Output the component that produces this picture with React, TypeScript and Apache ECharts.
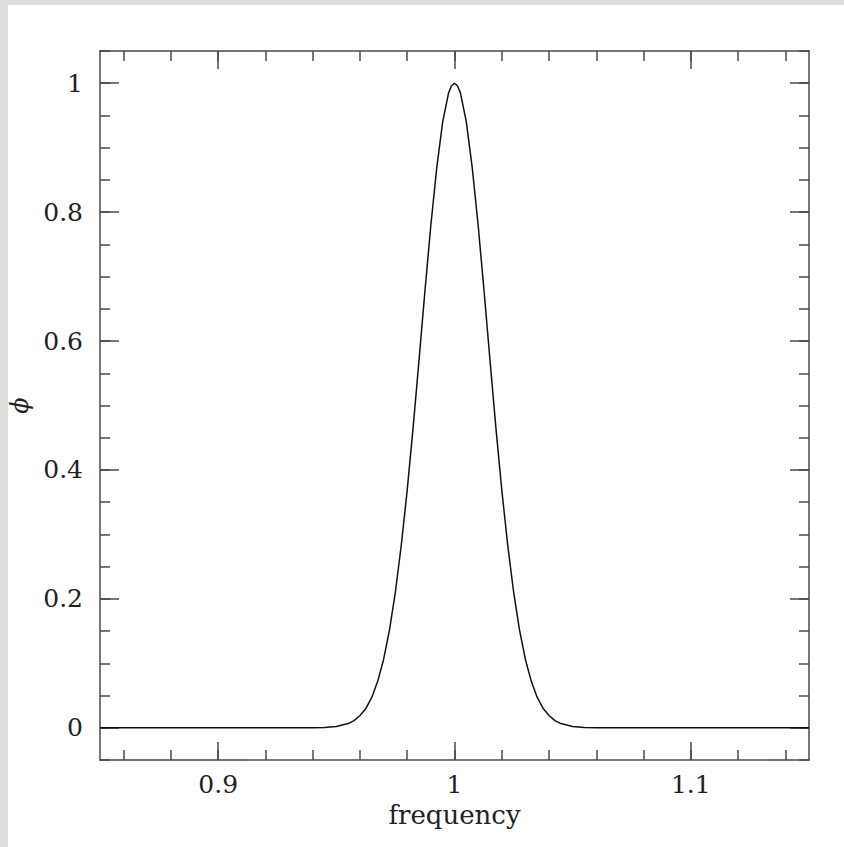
import React, { useEffect, useRef } from "react";
import * as echarts from "echarts";

// Frequency samples
const freq = [
  0.85, 0.9, 0.94, 0.945, 0.95, 0.955, 0.9575, 0.96, 0.9625, 0.965, 0.9675, 0.97,
  0.9725, 0.975, 0.9775, 0.98, 0.9825, 0.985, 0.9875, 0.99, 0.9925, 0.995, 0.9975,
  0.99875, 1.0, 1.00125,
  1.0025, 1.005, 1.0075, 1.01, 1.0125, 1.015, 1.0175, 1.02, 1.0225, 1.025, 1.0275, 1.03,
  1.0325, 1.035, 1.0375, 1.04, 1.0425, 1.045, 1.05, 1.055, 1.06, 1.1, 1.15,
];
const phi = [
  0, 0, 0.0001, 0.0005, 0.002, 0.0065, 0.011, 0.019, 0.03, 0.047, 0.072, 0.106,
  0.152, 0.211, 0.284, 0.369, 0.466, 0.571, 0.678, 0.78, 0.869, 0.94, 0.985,
  0.996, 1, 0.996,
  0.985, 0.94, 0.869, 0.78, 0.678, 0.571, 0.466, 0.369, 0.284, 0.211, 0.152, 0.106,
  0.072, 0.047, 0.03, 0.019, 0.011, 0.0065, 0.002, 0.0005, 0.0001, 0, 0,
];

const xMajorTicks = [0.9, 1, 1.1];
const xMinorTicks = [
  0.86, 0.88, 0.9, 0.92, 0.94, 0.96, 0.98, 1, 1.02, 1.04, 1.06, 1.08, 1.1, 1.12, 1.14,
];
const yMajorTicks = [0, 0.2, 0.4, 0.6, 0.8, 1];
const yMinorTicks = [
  -0.05, 0, 0.05, 0.1, 0.15, 0.2, 0.25, 0.3, 0.35, 0.4, 0.45, 0.5, 0.55, 0.6, 0.65,
  0.7, 0.75, 0.8, 0.85, 0.9, 0.95, 1, 1.05,
];

const X_MIN = 0.85;
const X_MAX = 1.15;
const Y_MIN = -0.05;
const Y_MAX = 1.05;

const AXIS_COLOR = "#4a4a4a";
const FONT = "DejaVu Serif";

export default function App() {
  const ref = useRef<HTMLDivElement>(null);

  useEffect(() => {
    document.body.style.margin = "0";
    document.body.style.background = "#dedede";
    if (!ref.current) return;
    const chart = echarts.init(ref.current, undefined, { renderer: "svg" });

    const lineStyle = { color: AXIS_COLOR, width: 1.5 };

    const xAxisDef = (
      gridIndex: number,
      position: "bottom" | "top",
      ticks: number[],
      len: number,
      withLabel: boolean,
      name?: string
    ) => ({
      type: "value",
      gridIndex,
      position,
      min: X_MIN,
      max: X_MAX,
      name: name,
      nameLocation: "middle",
      nameGap: 41,
      nameTextStyle: { fontFamily: FONT, fontSize: 26, color: "#222" },
      axisLine: { show: gridIndex === 0, onZero: false, lineStyle },
      axisTick: { show: true, inside: true, length: len, customValues: ticks, lineStyle },
      axisLabel: {
        show: withLabel,
        customValues: xMajorTicks,
        margin: 12,
        fontFamily: FONT,
        fontSize: 25,
        color: "#222",
      },
      splitLine: { show: false },
    });

    const yAxisDef = (
      gridIndex: number,
      position: "left" | "right",
      ticks: number[],
      len: number,
      withLabel: boolean,
      name?: string
    ) => ({
      type: "value",
      gridIndex,
      position,
      min: Y_MIN,
      max: Y_MAX,
      name: name,
      nameLocation: "middle",
      nameGap: 56,
      nameTextStyle: {
        fontFamily: FONT,
        fontStyle: "italic",
        fontSize: 24,
        color: "#222",
      },
      axisLine: { show: gridIndex === 0, onZero: false, lineStyle },
      axisTick: { show: true, inside: true, length: len, customValues: ticks, lineStyle },
      axisLabel: {
        show: withLabel,
        customValues: yMajorTicks,
        margin: 17,
        fontFamily: FONT,
        fontSize: 25,
        color: "#222",
      },
      splitLine: { show: false },
    });

    const gridRect = {
      left: 100,
      top: 51,
      width: 709,
      height: 709,
      containLabel: false,
      outerBoundsMode: "none",
    };

    chart.setOption({
      animation: false,
      backgroundColor: "#dedede",
      graphic: [
        {
          type: "rect",
          silent: true,
          z: -10,
          shape: { x: 8, y: 5, width: 836, height: 842 },
          style: { fill: "#ffffff" },
        },
      ],
      grid: [gridRect, gridRect],
      xAxis: [
        xAxisDef(0, "bottom", xMajorTicks, 18, true, "frequency"),
        xAxisDef(0, "top", xMajorTicks, 18, false),
        xAxisDef(1, "bottom", xMinorTicks, 10, false),
        xAxisDef(1, "top", xMinorTicks, 10, false),
      ],
      yAxis: [
        yAxisDef(0, "left", yMajorTicks, 19, true, "ϕ"),
        yAxisDef(0, "right", yMajorTicks, 19, false),
        yAxisDef(1, "left", yMinorTicks, 10, false),
        yAxisDef(1, "right", yMinorTicks, 10, false),
      ],
      series: [
        {
          type: "line",
          xAxisIndex: 0,
          yAxisIndex: 0,
          data: freq.map((f, i) => [f, phi[i]]),
          symbol: "none",
          smooth: false,
          lineStyle: { color: "#111", width: 1.5 },
        },
      ],
    });

    return () => chart.dispose();
  }, []);

  return <div ref={ref} style={{ width: 844, height: 847 }} />;
}
